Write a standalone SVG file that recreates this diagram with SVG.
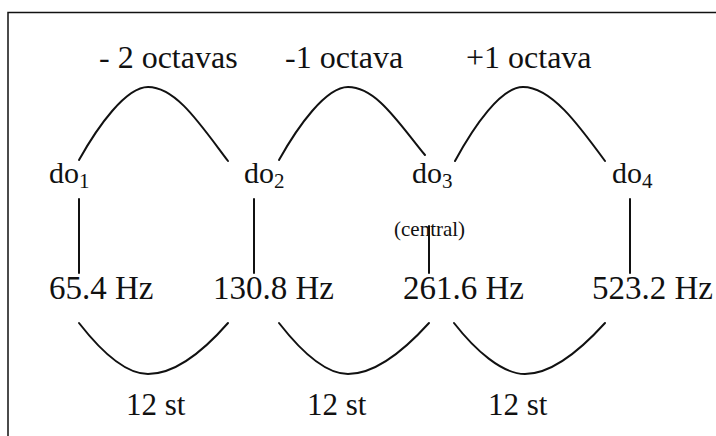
<svg xmlns="http://www.w3.org/2000/svg" width="716" height="436" viewBox="0 0 716 436" font-family="'Liberation Serif', 'DejaVu Serif', serif">
<style>
text{font-family:'Liberation Serif','DejaVu Serif',serif;fill:#111}
.oct{font-size:32px}
.note{font-size:30px}
.sub{font-size:21px}
.hz{font-size:33px}
.st{font-size:31px}
.cen{font-size:21px}
.ln{fill:none;stroke:#111;stroke-width:2;stroke-linecap:round}
</style>
<rect width="716" height="436" fill="#fff"/>
<path d="M8,440 V12.5 H720" fill="none" stroke="#111" stroke-width="1.5"/>
<g id="labels-top">
<text class="oct" x="99" y="68">- 2 octavas</text>
<text class="oct" x="285" y="68">-1 octava</text>
<text class="oct" x="466" y="68">+1 octava</text>
</g>
<g id="do1"><text class="note" x="49" y="183">do<tspan class="sub" dy="5">1</tspan></text></g>
<g id="do2"><text class="note" x="244" y="183">do<tspan class="sub" dy="5">2</tspan></text></g>
<g id="do3"><text class="note" x="412" y="183">do<tspan class="sub" dy="5">3</tspan></text><text class="cen" x="394" y="236">(central)</text></g>
<g id="do4"><text class="note" x="612" y="183">do<tspan class="sub" dy="5">4</tspan></text></g>
<g id="hz1"><text class="hz" x="49" y="299">65.4 Hz</text></g>
<g id="hz2"><text class="hz" x="213" y="299">130.8 Hz</text></g>
<g id="hz3"><text class="hz" x="403" y="299">261.6 Hz</text></g>
<g id="hz4"><text class="hz" x="592" y="299">523.2 Hz</text></g>
<g id="st">
<text class="st" x="126" y="415">12 st</text>
<text class="st" x="307" y="415">12 st</text>
<text class="st" x="488" y="415">12 st</text>
</g>
<g id="connectors">
<path class="ln" d="M79,160 C98,126 126,87 148,87 C176,87 200,124 228,161"/>
<path class="ln" d="M279,160 C298,126 326,87 348,87 C376,87 398,122 425,155"/>
<path class="ln" d="M455,161 C474,126 501,87 523,87 C551,87 578,124 605,161"/>
<path class="ln" d="M79,199 V273"/>
<path class="ln" d="M254,199 V273"/>
<path class="ln" d="M429,226 V273"/>
<path class="ln" d="M630,199 V273"/>
<path class="ln" d="M79,323 C100,350 125,374 148,374 C172,374 200,355 228,323"/>
<path class="ln" d="M279,323 C300,350 325,374 348,374 C372,374 400,355 429,323"/>
<path class="ln" d="M454,323 C475,350 502,374 525,374 C549,374 576,355 605,323"/>
</g>
</svg>
